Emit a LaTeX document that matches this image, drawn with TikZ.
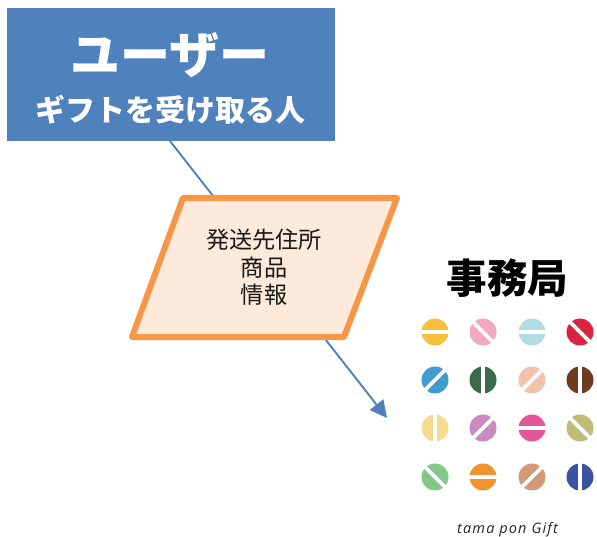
\documentclass[tikz,border=0pt]{standalone}
\usepackage{fontspec}
\setmainfont{Liberation Sans}
\newfontfamily\cjk{Noto Sans CJK JP}
\newfontfamily\logofont{Open Sans}
\usetikzlibrary{arrows.meta}
\definecolor{ublue}{HTML}{4F81BD}
\definecolor{uorange}{HTML}{F79646}
\definecolor{ufill}{HTML}{FDEADA}
\tikzset{
  title/.style={font=\cjk\bfseries, inner sep=0pt, anchor=center},
  flow/.style={draw=ublue, line width=1.9pt, -{Triangle[length=17pt,width=17pt]}},
  labelbox/.style={align=center, inner sep=0pt, font=\cjk\fontsize{23.2}{27.5}\selectfont, text=black!90}
}
\newcommand{\pill}[4]{% x y angle colour
  \begin{scope}[shift={(#1,#2)}]
    \definecolor{pillc}{HTML}{#4}
    \fill[pillc] (0,0) circle (13.5);
    \fill[white, rotate=#3] (-14.5,-1.8) rectangle (14.5,1.8);
  \end{scope}}
\begin{document}
\begin{tikzpicture}[x=1pt,y=-1pt]
\useasboundingbox[fill=white] (0,0) rectangle (597,537);
\coordinate (flowstart) at (170,141);
\coordinate (flowend) at (387,418);
\draw[flow] (flowstart) -- (flowend);
\node[fill=ublue, minimum width=328pt, minimum height=133pt, inner sep=0pt] (user) at (171,74.5) {};
\node[title, text=white, font=\cjk\bfseries\fontsize{50}{50}\selectfont] (usertitle) at (169.5,55) {ユーザー};
\node[title, text=white, font=\cjk\bfseries\fontsize{30}{30}\selectfont] (usersub) at (170,110) {ギフトを受け取る人};
\draw[uorange, fill=ufill, line width=6pt, line join=round] (183,198) -- (397,198) -- (344,337) -- (132,337) -- cycle;
\node[labelbox] (info) at (264,267.5) {発送先住所\\商品\\情報};
\node[title, text=black, font=\cjk\bfseries\fontsize{40.5}{41}\selectfont] (office) at (507.5,278) {事務局};
\pill{435}{332}{0}{F6BE3A}
\pill{483}{332}{-45}{F2A9C0}
\pill{532}{332}{0}{B3DCE4}
\pill{580}{332}{-45}{DC2340}
\pill{435}{380}{45}{409BCE}
\pill{483}{380}{90}{3B6B4A}
\pill{532}{380}{45}{F2C3AC}
\pill{580}{380}{90}{6E3B1E}
\pill{435}{428}{90}{F6DC90}
\pill{483}{428}{45}{C98AC0}
\pill{532}{428}{0}{E5559A}
\pill{580}{428}{-45}{C0BC78}
\pill{435}{477}{-45}{85C788}
\pill{483}{477}{0}{F09330}
\pill{532}{477}{45}{D29B75}
\pill{580}{477}{90}{3A55A0}
\node[inner sep=0pt, font=\logofont\itshape\fontsize{14.5}{14.5}\selectfont, text=black!85] (logo) at (507.5,530) {\addfontfeature{LetterSpace=8}tama pon Gift};
\end{tikzpicture}
\end{document}
